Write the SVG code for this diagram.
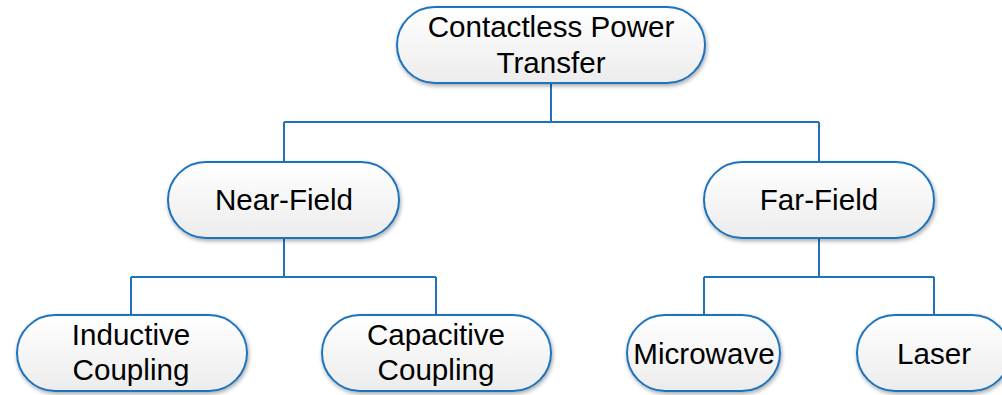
<svg xmlns="http://www.w3.org/2000/svg" width="1002" height="395" viewBox="0 0 1002 395">
<style>
.node{fill:url(#g);stroke:#1e73be;stroke-width:2;filter:url(#sh)}
.t{font-family:"Liberation Sans",Arial,sans-serif;font-size:29.6px;fill:#000;text-anchor:middle}
.c{fill:none;stroke:#1e73be;stroke-width:2}
</style>
<defs>
<linearGradient id="g" x1="0" y1="0" x2="0" y2="1">
<stop offset="0" stop-color="#ffffff"/>
<stop offset="1" stop-color="#ececec"/>
</linearGradient>
<filter id="sh" x="-10%" y="-20%" width="120%" height="150%">
<feGaussianBlur in="SourceAlpha" stdDeviation="2"/>
<feOffset dx="1" dy="2" result="b"/>
<feComponentTransfer><feFuncA type="linear" slope="0.35"/></feComponentTransfer>
<feMerge><feMergeNode/><feMergeNode in="SourceGraphic"/></feMerge>
</filter>
</defs>
<rect width="1002" height="395" fill="#fff"/>
<g id="connectors">
<path class="c" d="M551 83V122M284 122H819M284 122V162M819 122V162"/>
<path class="c" d="M284 238V277M131 277H436M131 277V315M436 277V315"/>
<path class="c" d="M819 238V277M704 277H934M704 277V315M934 277V315"/>
</g>
<g id="n-root"><rect class="node" x="397" y="7" width="308" height="76" rx="38"/>
<text class="t" x="551" y="37">Contactless Power</text><text class="t" x="551" y="73">Transfer</text></g>
<g id="n-near"><rect class="node" x="168" y="162" width="231" height="76" rx="38"/>
<text class="t" x="284" y="210">Near-Field</text></g>
<g id="n-far"><rect class="node" x="704" y="162" width="230" height="76" rx="38"/>
<text class="t" x="819" y="210">Far-Field</text></g>
<g id="n-inductive"><rect class="node" x="17" y="315" width="230" height="76" rx="38"/>
<text class="t" x="131" y="345">Inductive</text><text class="t" x="131" y="380">Coupling</text></g>
<g id="n-capacitive"><rect class="node" x="322" y="315" width="229" height="76" rx="38"/>
<text class="t" x="436" y="345">Capacitive</text><text class="t" x="436" y="380">Coupling</text></g>
<g id="n-microwave"><rect class="node" x="627" y="315" width="153" height="76" rx="38"/>
<text class="t" x="704" y="364">Microwave</text></g>
<g id="n-laser"><rect class="node" x="857" y="315" width="153" height="76" rx="38"/>
<text class="t" x="934" y="364">Laser</text></g>
</svg>
